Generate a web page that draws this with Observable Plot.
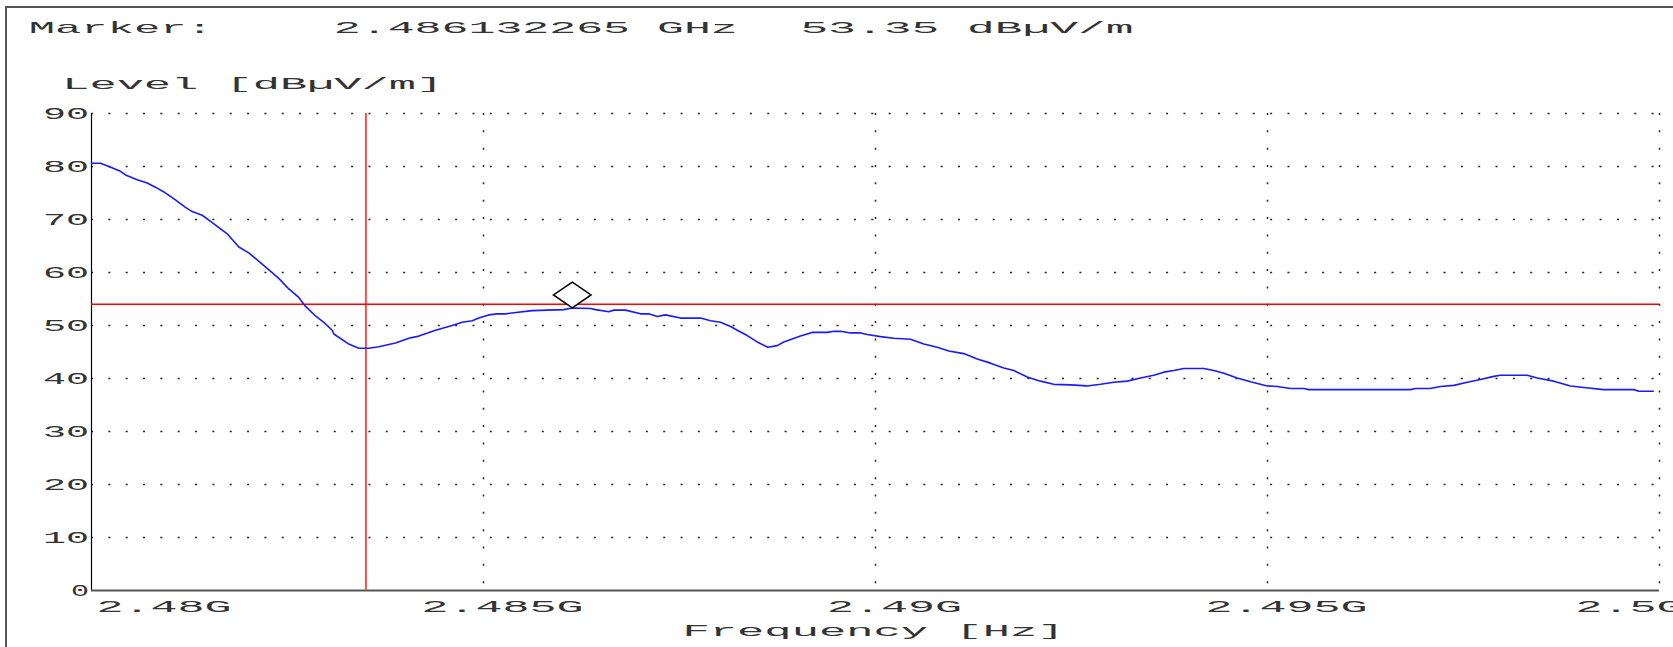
<!DOCTYPE html>
<html>
<head>
<meta charset="utf-8">
<script src="https://cdn.jsdelivr.net/npm/d3@7"></script>
<script src="https://cdn.jsdelivr.net/npm/@observablehq/plot@0.6"></script>
<style>
html, body { margin: 0; padding: 0; background: #fff; }
#wrap { position: relative; width: 1673px; height: 647px; overflow: hidden; background: #fff; }
#wrap svg { position: absolute; left: 0; top: 0; }
#frame { position: absolute; left: 5px; top: 6px; width: 1700px; height: 700px;
  border-top: 2px solid #555; border-left: 2px solid #555; pointer-events: none; }
</style>
</head>
<body>
<div id="wrap"><div id="frame"></div></div>
<script>
// Frequency of trace points (MHz)
const freqMHz = [
  2480.000, 2480.115, 2480.221, 2480.370, 2480.434, 2480.583, 2480.710, 2480.816, 2480.922, 2481.071,
  2481.199, 2481.284, 2481.412, 2481.540, 2481.731, 2481.879, 2482.006, 2482.177, 2482.389, 2482.517,
  2482.644, 2482.730, 2482.857, 2482.963, 2483.070, 2483.091, 2483.282, 2483.409, 2483.537, 2483.665,
  2483.878, 2484.047, 2484.175, 2484.388, 2484.601, 2484.728, 2484.856, 2484.940, 2485.068, 2485.175,
  2485.281, 2485.387, 2485.621, 2486.024, 2486.132, 2486.365, 2486.429, 2486.598, 2486.662, 2486.811,
  2487.003, 2487.108, 2487.215, 2487.321, 2487.513, 2487.768, 2487.896, 2488.023, 2488.151, 2488.236,
  2488.364, 2488.491, 2488.626, 2488.746, 2488.830, 2489.043, 2489.192, 2489.384, 2489.468, 2489.553,
  2489.680, 2489.808, 2489.894, 2490.064, 2490.233, 2490.446, 2490.616, 2490.787, 2490.935, 2491.126,
  2491.297, 2491.467, 2491.636, 2491.764, 2491.935, 2492.104, 2492.274, 2492.487, 2492.700, 2492.870,
  2493.040, 2493.210, 2493.380, 2493.550, 2493.677, 2493.805, 2493.932, 2494.187, 2494.315, 2494.443,
  2494.613, 2494.783, 2494.996, 2495.123, 2495.293, 2495.463, 2495.527, 2496.824, 2496.886, 2497.078,
  2497.205, 2497.376, 2497.547, 2497.716, 2497.886, 2497.972, 2498.312, 2498.440, 2498.651, 2498.864,
  2499.034, 2499.289, 2499.673, 2499.737, 2499.920
];
// Level of trace points (dBµV/m)
const levelDb = [
  80.6, 80.6, 80.0, 79.1, 78.4, 77.5, 76.9, 76.1, 75.2, 73.7,
  72.3, 71.5, 70.8, 69.4, 67.3, 64.8, 63.7, 61.6, 58.9, 56.9,
  55.3, 53.6, 51.8, 50.6, 49.1, 48.4, 46.5, 45.7, 45.7, 46.0,
  46.7, 47.6, 48.0, 49.1, 50.0, 50.6, 50.9, 51.4, 52.0, 52.2,
  52.2, 52.4, 52.8, 53.0, 53.3, 53.2, 53.0, 52.6, 52.9, 52.9,
  52.2, 52.2, 51.7, 52.0, 51.4, 51.4, 50.9, 50.6, 49.8, 49.1,
  48.1, 46.9, 45.9, 46.2, 46.9, 48.0, 48.7, 48.7, 48.9, 48.9,
  48.6, 48.6, 48.3, 47.9, 47.6, 47.4, 46.5, 45.9, 45.2, 44.7,
  43.7, 42.9, 42.0, 41.5, 40.3, 39.5, 38.9, 38.8, 38.6, 38.9,
  39.3, 39.5, 40.1, 40.6, 41.2, 41.5, 41.9, 41.9, 41.5, 41.0,
  40.1, 39.4, 38.6, 38.5, 38.1, 38.1, 37.9, 37.9, 38.1, 38.1,
  38.5, 38.7, 39.3, 39.8, 40.4, 40.6, 40.6, 40.1, 39.5, 38.6,
  38.3, 37.9, 37.9, 37.6, 37.6
];
const yTicks = [0, 10, 20, 30, 40, 50, 60, 70, 80, 90];
const xTicks = [2480, 2485, 2490, 2495, 2500];
const xTickLabels = ["2.48G", "2.485G", "2.49G", "2.495G", "2.5G"];
const limitLevel = [54];
const cursorFreq = [2483.5];
const markerFreq = [2486.132265];
const markerLevel = [53.35];
const markerTitle = ["Marker:"];
const yTitle = ["Level [dBµV/m]"];
const xTitle = ["Frequency [Hz]"];

const trace = freqMHz.map((f, i) => ({f, v: levelDb[i]}));
const markerData = markerFreq.map((f, i) => ({f, v: markerLevel[i]}));
const markerFreqText = [(markerFreq[0] / 1000).toFixed(9) + " GHz"];
const markerLevelText = [markerLevel[0].toFixed(2) + " dBµV/m"];
const xLab = (d) => xTickLabels[xTicks.indexOf(d)];

const diamond = {
  draw(ctx) {
    const w = 18.8, h = 12.8;
    ctx.moveTo(0, -h); ctx.lineTo(w, 0); ctx.lineTo(0, h); ctx.lineTo(-w, 0); ctx.closePath();
  }
};

const dots = "2 15.34";
const txt = {fill: "#333", fontSize: 17};

const chart = Plot.plot({
  width: 1673, height: 647,
  marginLeft: 91, marginRight: 14, marginTop: 113, marginBottom: 57,
  x: {domain: [2480, 2500], axis: null},
  y: {domain: [0, 90], axis: null},
  style: {fontFamily: "'Liberation Mono', monospace", fontSize: "17px", background: "transparent"},
  marks: [
    Plot.ruleY(yTicks.filter(d => d > 0), {y: d => d, stroke: "#222", strokeWidth: 1.5, strokeDasharray: dots}),
    Plot.ruleX(xTicks.filter(d => d > 2480), {x: d => d, stroke: "#222", strokeWidth: 1.5, strokeDasharray: dots}),
    Plot.ruleX([xTicks[0]], {x: d => d, stroke: "#000", strokeWidth: 1.2}),
    Plot.ruleY([yTicks[0]], {y: d => d, stroke: "#555", strokeWidth: 2.2}),
    Plot.ruleX(cursorFreq, {x: d => d, stroke: "#ff4d4d", strokeWidth: 2}),
    Plot.ruleY(limitLevel, {y: d => d, stroke: "#ff0000", strokeWidth: 1.6}),
    Plot.line(trace, {x: "f", y: "v", stroke: "#1a1aff", strokeWidth: 1.6}),
    Plot.dot(markerData, {x: "f", y: "v", symbol: diamond, r: 10, dy: -12.8, stroke: "#000", strokeWidth: 1.5, fill: "#fff"}),
    // y tick labels
    Plot.text(yTicks, {x: () => xTicks[0], y: d => d, text: d => String(d), textAnchor: "end", dx: -2.5, lineAnchor: "middle", ...txt}),
    // x tick labels
    Plot.text([xTicks[0]], {x: d => d, frameAnchor: "bottom", text: xLab, textAnchor: "start", dx: 5, dy: 21, lineAnchor: "bottom", ...txt}),
    Plot.text(xTicks.slice(1, 4), {x: d => d, frameAnchor: "bottom", text: xLab, textAnchor: "middle", dx: 19, dy: 21, lineAnchor: "bottom", ...txt}),
    Plot.text([xTicks[4]], {x: d => d, frameAnchor: "bottom", text: xLab, textAnchor: "start", dx: -84, dy: 21, lineAnchor: "bottom", ...txt}),
    // axis titles
    Plot.text(xTitle, {frameAnchor: "bottom", text: d => d, textAnchor: "middle", dx: -2, dy: 45, lineAnchor: "bottom", ...txt}),
    Plot.text(yTitle, {frameAnchor: "top-left", text: d => d, textAnchor: "start", dx: -29.3, dy: -24.7, lineAnchor: "bottom", ...txt}),
    // marker header
    Plot.text(markerTitle, {frameAnchor: "top-left", text: d => d, textAnchor: "start", dx: -62.7, dy: -80.7, lineAnchor: "bottom", ...txt}),
    Plot.text(markerFreqText, {frameAnchor: "top-left", text: d => d, textAnchor: "start", dx: 242.3, dy: -80.7, lineAnchor: "bottom", ...txt}),
    Plot.text(markerLevelText, {frameAnchor: "top-left", text: d => d, textAnchor: "start", dx: 709, dy: -80.7, lineAnchor: "bottom", ...txt})
  ]
});

// Stretch the glyphs horizontally like the instrument's wide font
const widths = new Map([
  [markerTitle[0], 184], [markerFreqText[0], 404], [markerLevelText[0], 333],
  [yTitle[0], 381], [xTitle[0], 382], ["0", 18]
]);
chart.querySelectorAll("text").forEach(t => {
  const s = t.textContent;
  let w = widths.get(s);
  if (w == null) w = /G$/.test(s) ? s.length * 27 : s.length * 23;
  t.setAttribute("textLength", w);
  t.setAttribute("lengthAdjust", "spacingAndGlyphs");
});

document.getElementById("wrap").insertBefore(chart, document.getElementById("frame"));
</script>
</body>
</html>
